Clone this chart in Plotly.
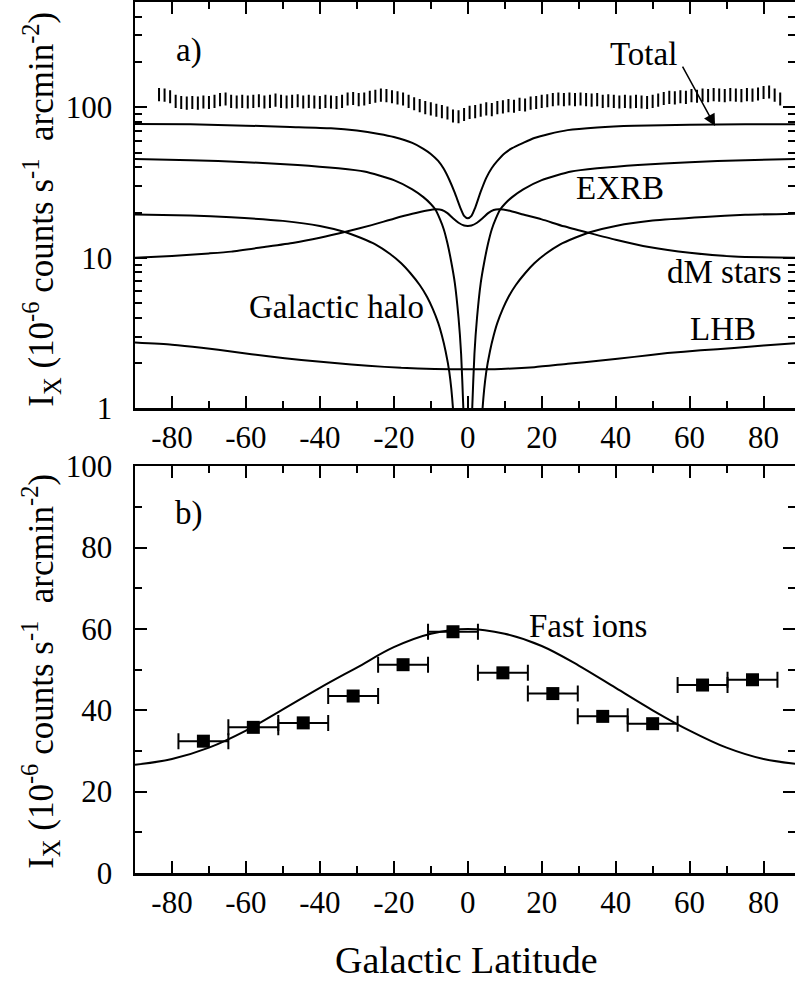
import numpy as np
import plotly.graph_objects as go

# ---------------- data ----------------
# panel a) model curves
tot_lat = [-90, -75, -60, -48, -37, -30, -24, -20, -15, -12, -10, -8, -6.5, -5, -3.5, -2, -1, 0,
           1, 2, 3.5, 5, 6.5, 8, 10, 12, 15, 18, 22, 27, 35, 45, 60, 75, 90]
tot_val = [77.5, 77, 75.5, 74, 72.5, 70, 66.5, 63.5, 58, 53, 49, 44, 39, 33, 27, 21.5, 19, 18.3,
           19, 21.5, 27.5, 34, 39.5, 44, 49.5, 53.5, 58, 62.5, 66.5, 70.5, 73.5, 75.5, 76.5, 77, 77]

exrb_lat = [-90, -75, -60, -46, -35, -28, -20, -15, -12, -10, -8.8, -7.5, -6.5, -5.5, -4.5, -3.5, -2.5, -1.8, -1.2, -0.8,
            None,
            0.8, 1.2, 1.8, 2.5, 3.5, 4.5, 5.5, 6.5, 7.5, 8.8, 10, 12, 15, 20, 28, 35, 46, 60, 75, 90]
exrb_val = [45.4, 44.5, 43.2, 41.4, 39.3, 37.4, 32.8, 28.5, 25.3, 22.8, 21, 18, 15.5, 12.5, 9.5, 6.8, 4.0, 2.3, 1.0, 0.5,
            None,
            0.5, 1.0, 2.3, 4.0, 6.8, 9.5, 12.5, 15.5, 18, 21, 22.8, 25.3, 28.5, 32.8, 37.4, 39.3, 41.4, 43.2, 44.5, 45.4]

halo_lat = [-90, -75, -64, -50, -40, -33, -29, -25, -21, -18, -15.5, -13, -11, -9.5, -8, -7, -6, -5, -4, -3.5,
            None,
            3.5, 4, 5, 6, 7, 8, 9.5, 11, 13, 15.5, 18, 21, 25, 29, 33, 40, 50, 64, 75, 90]
halo_val = [19.4, 19.1, 18.6, 17.6, 16.3, 14.8, 13.6, 12.3, 10.6, 9.2, 7.9, 6.6, 5.5, 4.6, 3.7, 3.05, 2.4, 1.75, 1.0, 0.5,
            None,
            0.5, 1.0, 1.75, 2.4, 3.05, 3.7, 4.6, 5.5, 6.6, 7.9, 9.2, 10.6, 12.3, 13.6, 14.8, 16.3, 17.7, 18.7, 19.3, 19.7]

dm_lat = [-90, -80, -70, -64, -55, -47, -40, -33, -26, -20, -15, -11, -8.5, -7, -5.5, -4, -2.5, -1, 0,
          1, 2.5, 4, 5.5, 7, 8.5, 11, 15, 20, 26, 33, 40, 49, 60, 72, 90]
dm_val = [10.0, 10.3, 10.7, 11.0, 11.8, 12.6, 13.6, 14.9, 16.5, 18.2, 19.6, 20.6, 21.0, 20.8, 19.8, 18.3, 17.1, 16.4, 16.3,
          16.4, 17.1, 18.3, 19.8, 20.8, 21.0, 20.6, 19.4, 18.0, 16.2, 14.6, 13.2, 11.8, 10.8, 10.2, 10.0]

lhb_lat = [-90, -80, -72, -63, -54, -45, -36, -27, -18, -9, 0, 9, 18, 27, 36, 45, 54, 63, 72, 80, 90]
lhb_val = [2.74, 2.65, 2.53, 2.37, 2.22, 2.1, 2.0, 1.92, 1.86, 1.83, 1.82, 1.83, 1.88, 1.98, 2.08, 2.2, 2.33, 2.43, 2.52, 2.62, 2.72]

# panel a) measured total (error bars only)
obs_lat = list(np.round(np.arange(-83.5, 85.0, 1.5), 2))
obs_val = [122, 121, 118, 110, 108, 107, 108, 107, 109, 108,
           110, 113, 114, 110, 109, 110, 109, 110, 111, 109,
           110, 112, 110, 109, 110, 111, 109, 110, 109, 108,
           110, 109, 108, 110, 114, 115, 113, 114, 117, 119,
           121, 120, 118, 116, 114, 110, 106, 103, 100, 98,
           96, 94, 92, 88, 87, 90, 93, 94, 96, 98,
           97, 100, 101, 103, 102, 105, 104, 107, 108, 110,
           111, 113, 114, 113, 114, 113, 114, 113, 112, 113,
           110, 111, 110, 109, 110, 109, 110, 109, 108, 110,
           112, 115, 117, 116, 118, 117, 120, 119, 121, 120,
           122, 121, 120, 122, 121, 120, 122, 121, 123, 126,
           127, 121, 114]

# panel b) fast ions model and data
fast_lat = [-90, -80, -70, -60, -50, -40, -30, -20, -10, 0, 10, 20, 30, 40, 50, 60, 70, 80, 90]
fast_val = [26.6, 28.0, 30.8, 35.0, 40.2, 45.5, 50.5, 55.5, 58.8, 60.0, 58.8, 55.8, 51.0, 45.5, 40.0, 35.0, 30.8, 28.0, 26.7]

pts_lat = [-71.5, -58, -44.5, -31, -17.5, -4, 9.5, 23, 36.5, 50, 63.5, 77]
pts_val = [32.4, 35.8, 36.9, 43.5, 51.2, 59.3, 49.2, 44.1, 38.5, 36.7, 46.2, 47.5]
pts_xerr = [6.75] * 12

x_ticks = [-80, -60, -40, -20, 0, 20, 40, 60, 80]
x_ticktext = ["-80", "-60", "-40", "-20", "0", "20", "40", "60", "80"]
x_minor = [-70, -50, -30, -10, 10, 30, 50, 70]
ya_ticks = [1, 10, 100]
ya_minor = [2, 3, 4, 5, 6, 7, 8, 9, 20, 30, 40, 50, 60, 70, 80, 90, 200, 300, 400]
yb_ticks = [0, 20, 40, 60, 80, 100]
yb_minor = [10, 30, 50, 70, 90]

# ---------------- layout geometry ----------------
W, H = 795, 981
L, R, T, B = 134.5, 0, 2, 108.3
PW, PH = W - L - R, H - T - B


def px(xp):
    return (xp - L) / PW


def py(yp):
    return (H - B - yp) / PH


FONT = "Liberation Serif, Times New Roman, Times, serif"
LW = 2

fig = go.Figure()

# panel a
for xs, ys in [(tot_lat, tot_val), (exrb_lat, exrb_val), (halo_lat, halo_val), (dm_lat, dm_val), (lhb_lat, lhb_val)]:
    fig.add_trace(go.Scatter(x=xs, y=ys, mode="lines", line=dict(color="black", width=LW, shape="spline", smoothing=0.6),
                             connectgaps=False, xaxis="x", yaxis="y", showlegend=False, hoverinfo="skip"))

fig.add_trace(go.Scatter(x=obs_lat, y=obs_val, mode="markers", marker=dict(size=1, color="rgba(0,0,0,0)"),
                         error_y=dict(type="percent", value=10, width=0, thickness=2, color="black"),
                         xaxis="x", yaxis="y", showlegend=False, hoverinfo="skip"))

# panel b
fig.add_trace(go.Scatter(x=fast_lat, y=fast_val, mode="lines", line=dict(color="black", width=LW, shape="spline", smoothing=1.0),
                         xaxis="x2", yaxis="y2", showlegend=False, hoverinfo="skip"))
fig.add_trace(go.Scatter(x=pts_lat, y=pts_val, mode="markers",
                         marker=dict(symbol="square", size=13, color="black"),
                         error_x=dict(type="data", array=pts_xerr, width=8, thickness=2, color="black"),
                         xaxis="x2", yaxis="y2", showlegend=False, hoverinfo="skip"))

# dummy traces for right-hand tick axes
fig.add_trace(go.Scatter(x=[None], y=[None], xaxis="x", yaxis="y3", showlegend=False))
fig.add_trace(go.Scatter(x=[None], y=[None], xaxis="x2", yaxis="y4", showlegend=False))

tickfont = dict(family=FONT, size=31, color="black")
minor_x = dict(ticks="inside", ticklen=7, tickwidth=2, tickcolor="black", tickvals=x_minor, showgrid=False)

xcommon = dict(range=[-90, 88.5], tickvals=x_ticks, ticktext=x_ticktext, ticks="inside", ticklen=12, tickwidth=2,
               tickcolor="black", showline=True, linewidth=2.5, linecolor="black", mirror="ticks", showgrid=False,
               zeroline=False, tickfont=tickfont, minor=minor_x, ticklabelstandoff=0)

ya_range = [0, np.log10(500)]
yb_range = [0, 100]
dom_a = [py(408.3), 1]
dom_b = [0, py(466)]

ycommon = dict(ticks="inside", ticklen=12, tickwidth=2, tickcolor="black", showgrid=False, zeroline=False)

fig.update_layout(
    width=W, height=H,
    margin=dict(l=L, r=R, t=T, b=B, autoexpand=False),
    paper_bgcolor="white", plot_bgcolor="white",
    font=dict(family=FONT, color="black"),
    xaxis=dict(**xcommon, anchor="y", domain=[0, 1]),
    xaxis2=dict(**xcommon, anchor="y2", domain=[0, 1]),
    yaxis=dict(**ycommon, type="log", range=ya_range, domain=dom_a, anchor="x", tickvals=ya_ticks,
               ticktext=["1", "10", "100"], showline=True, linewidth=2.5, linecolor="black",
               tickfont=tickfont, ticklabelstandoff=14,
               minor=dict(ticks="inside", ticklen=7, tickwidth=2, tickcolor="black", tickvals=ya_minor, showgrid=False)),
    yaxis3=dict(**ycommon, type="log", range=ya_range, overlaying="y", side="right", anchor="x", tickvals=ya_ticks,
                showline=False, showticklabels=False,
                minor=dict(ticks="inside", ticklen=7, tickwidth=2, tickcolor="black", tickvals=ya_minor, showgrid=False)),
    yaxis2=dict(**ycommon, range=yb_range, domain=dom_b, anchor="x2", tickvals=yb_ticks,
                showline=True, linewidth=2.5, linecolor="black", tickfont=tickfont, ticklabelstandoff=14,
                minor=dict(ticks="inside", ticklen=7, tickwidth=2, tickcolor="black", tickvals=yb_minor, showgrid=False)),
    yaxis4=dict(**ycommon, range=yb_range, overlaying="y2", side="right", anchor="x2", tickvals=yb_ticks,
                showline=False, showticklabels=False,
                minor=dict(ticks="inside", ticklen=7, tickwidth=2, tickcolor="black", tickvals=yb_minor, showgrid=False)),
    showlegend=False,
)

ytitle = "I<sub>X</sub> (10<sup>-6</sup> counts s<sup>-1</sup>  arcmin<sup>-2</sup>)"
ann_font = dict(family=FONT, size=33, color="black")
annotations = [
    dict(text=ytitle, x=px(40), y=py(209), textangle=-90, font=dict(family=FONT, size=35, color="black")),
    dict(text=ytitle, x=px(40), y=py(671), textangle=-90, font=dict(family=FONT, size=35, color="black")),
    dict(text="Galactic Latitude", x=px(466), y=py(960), font=dict(family=FONT, size=38, color="black")),
    dict(text="a)", x=px(189), y=py(50), font=ann_font),
    dict(text="b)", x=px(189), y=py(513), font=ann_font),
    dict(text="Total", x=px(643.5), y=py(53.5), font=ann_font),
    dict(text="EXRB", x=px(620), y=py(187.5), font=ann_font),
    dict(text="dM stars", x=px(724.5), y=py(272), font=ann_font),
    dict(text="LHB", x=px(722.5), y=py(328.5), font=ann_font),
    dict(text="Galactic halo", x=px(336.5), y=py(306.5), font=ann_font),
    dict(text="Fast ions", x=px(587.5), y=py(625.5), font=ann_font),
]
for a in annotations:
    a.update(xref="paper", yref="paper", showarrow=False, xanchor="center", yanchor="middle")
# arrow from "Total" to the total curve
annotations.append(dict(text="", xref="paper", yref="paper", x=px(715), y=py(126), ax=681.7 - 715, ay=65 - 126,
                        axref="pixel", ayref="pixel", showarrow=True, arrowhead=2, arrowsize=1.6, arrowwidth=1.5,
                        arrowcolor="black"))
fig.update_layout(annotations=annotations)

# the page's default 8px body margin would shift the figure; remove it
fig.write_html("out.html", config={"displayModeBar": False, "staticPlot": True},
               post_script="document.body.style.margin='0px';document.body.style.overflow='hidden';")
